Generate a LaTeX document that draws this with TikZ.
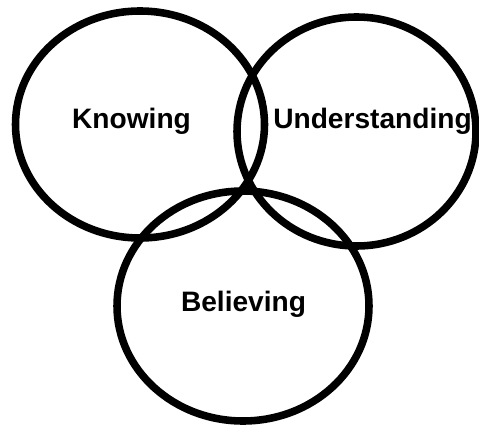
\documentclass[tikz,border=0pt]{standalone}
\usepackage{fontspec}
\setmainfont{Liberation Sans}
\usepackage{tikz}

\begin{document}
\begin{tikzpicture}[
  x=0.02cm, y=-0.02cm,
  ring/.style={draw, line width=4.3pt},
  lbl/.style={font=\fontsize{16}{19}\selectfont\bfseries, anchor=base}
]
  \useasboundingbox (0,0) rectangle (479,425);
  % the three sets
  \draw[ring] (140,124.5) ellipse [x radius=124.5, y radius=113.5];
  \draw[ring] (356.5,131.5) ellipse [x radius=119.5, y radius=114.5];
  \draw[ring] (243,306) ellipse [x radius=126, y radius=115];
  % labels
  \node[lbl] (know) at (131.5,129) {Knowing};
  \node[lbl] (under) at (372.5,129) {Understanding};
  \node[lbl] (believe) at (243.5,311) {Believing};
\end{tikzpicture}
\end{document}
